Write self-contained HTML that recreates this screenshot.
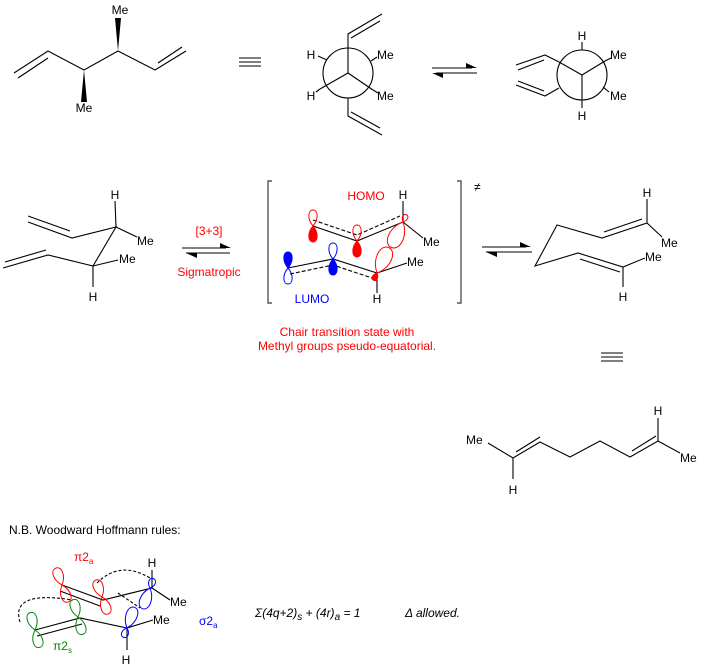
<!DOCTYPE html>
<html><head><meta charset="utf-8"><style>
html,body{margin:0;padding:0;background:#fff;}
svg{display:block;}
text{font-family:"Liberation Sans",sans-serif;font-size:12px;}
</style></head><body>
<svg width="704" height="668" viewBox="0 0 704 668" xmlns="http://www.w3.org/2000/svg">
<defs>
<path id="l16" d="M0,0 C-6,-7 -5,-16 0,-16 C5,-16 6,-7 0,0 Z"/>
<path id="l8" d="M0,0 C-4,-4 -3,-8 0,-8 C3,-8 4,-4 0,0 Z"/>
<path id="l28" d="M0,0 C-11,-11 -9,-28 0,-28 C9,-28 11,-11 0,0 Z"/>
<path id="w18" d="M0,0 C-7,-8 -6,-18 0,-18 C6,-18 7,-8 0,0 Z"/>
<path id="w10" d="M0,0 C-5,-4 -4,-10 0,-10 C4,-10 5,-4 0,0 Z"/>
<path id="w22" d="M0,0 C-8,-9 -7,-22 0,-22 C7,-22 8,-9 0,0 Z"/>
</defs>
<g stroke="#000" stroke-width="1.1" fill="none">
<polyline points="14,73 48,51 84,70 118,51 155,70 186,51"/>
<line x1="18" y1="78" x2="48" y2="58"/>
<line x1="158" y1="63" x2="182" y2="47"/>
<line x1="239" y1="58" x2="261" y2="58"/><line x1="239" y1="62" x2="261" y2="62"/><line x1="239" y1="66" x2="261" y2="66"/>
<ellipse cx="348" cy="73" rx="25" ry="25"/>
<line x1="348" y1="48" x2="348" y2="73"/><line x1="348" y1="73" x2="320" y2="89"/><line x1="348" y1="73" x2="373" y2="90"/>
<line x1="320" y1="89" x2="316" y2="92"/><line x1="373" y1="90" x2="378" y2="93"/>
<line x1="327" y1="60" x2="318" y2="56"/><line x1="371" y1="61" x2="377" y2="57"/>
<polyline points="348,48 348,34 382,14"/><line x1="351" y1="38" x2="380" y2="21"/>
<polyline points="348,98 348,116 382,135"/><line x1="351" y1="112" x2="380" y2="128"/>
<line x1="432" y1="68" x2="472" y2="68"/><line x1="436" y1="73" x2="477" y2="73"/>
<ellipse cx="582" cy="75" rx="25" ry="25"/>
<line x1="582" y1="75" x2="559" y2="62"/><line x1="582" y1="75" x2="605" y2="61"/><line x1="582" y1="75" x2="582" y2="100"/>
<line x1="582" y1="50" x2="582" y2="42"/><line x1="582" y1="100" x2="582" y2="108"/>
<line x1="603" y1="87" x2="609" y2="92"/><line x1="605" y1="61" x2="611" y2="58"/>
<polyline points="559,62 545,55 516,65"/><line x1="544" y1="60" x2="518" y2="70"/>
<polyline points="559,88 545,96 516,85"/><line x1="544" y1="91" x2="518" y2="81"/>
<line x1="115" y1="201" x2="116" y2="227"/>
<line x1="116" y1="227" x2="137" y2="237"/>
<polyline points="28,222 72,238 116,227 93,266 48,255 3,268"/>
<line x1="28" y1="216" x2="70" y2="231"/>
<line x1="5" y1="262" x2="46" y2="250"/>
<line x1="93" y1="266" x2="118" y2="260"/>
<line x1="93" y1="266" x2="93" y2="287"/>
<line x1="182" y1="248" x2="226" y2="248"/><line x1="186" y1="253" x2="230" y2="253"/>
<line x1="482" y1="247" x2="526" y2="247"/><line x1="486" y1="252" x2="532" y2="252"/>
<polyline points="272,181 268,181 268,303 272,303" stroke="#555" stroke-width="1.4"/>
<polyline points="457,181 461,181 461,303 457,303" stroke="#555" stroke-width="1.4"/>
<polyline points="313,226 357,241 403,222"/>
<line x1="403" y1="222" x2="423" y2="238"/>
<line x1="403" y1="201" x2="403" y2="222"/>
<polyline points="313,220 357,235 400,216" stroke-dasharray="4,2"/>
<polyline points="288,268 333,259 377,273"/>
<polyline points="290,274 333,265 375,279" stroke-dasharray="4,2"/>
<line x1="377" y1="273" x2="407" y2="263"/>
<line x1="377" y1="273" x2="377" y2="293"/>
<line x1="647" y1="199" x2="647" y2="223"/>
<polyline points="662,237 647,223 602,238 557,225 535,266 578,253 623,267 645,258"/>
<line x1="604" y1="232" x2="642" y2="219"/>
<line x1="580" y1="259" x2="620" y2="272"/>
<line x1="623" y1="267" x2="623" y2="287"/>
<line x1="601" y1="353" x2="623" y2="353"/><line x1="601" y1="357" x2="623" y2="357"/><line x1="601" y1="361" x2="623" y2="361"/>
<polyline points="488,443 513,458 540,442 570,457 600,441 630,457 658,441 680,453"/>
<line x1="516" y1="452" x2="540" y2="437"/>
<line x1="632" y1="451" x2="656" y2="436"/>
<line x1="658" y1="441" x2="658" y2="418"/>
<line x1="513" y1="458" x2="513" y2="479"/>
<line x1="152" y1="570" x2="152" y2="588"/>
<polyline points="62,585 103,600 152,588 170,600"/>
<line x1="60" y1="591" x2="100" y2="606"/>
<polyline points="35,630 80,618 127,628 153,620"/>
<line x1="37" y1="636" x2="82" y2="624"/>
<line x1="127" y1="628" x2="127" y2="650"/>
<path d="M97,583 Q120,560 150,578" stroke-dasharray="3,2"/>
<path d="M20,622 Q10,590 73,600" stroke-dasharray="3,2"/>
<path d="M118,593 L140,608" stroke-dasharray="3,2"/>
</g>
<g fill="#000">
<polygon points="466,63 477,68 466,68"/><polygon points="443,78 432,73 443,73"/>
<polygon points="220,243 231,248 220,248"/><polygon points="197,258 186,253 197,253"/>
<polygon points="520,242 531,247 520,247"/><polygon points="497,257 486,252 497,252"/>
<polygon points="84,70 81,102 87,102"/>
<polygon points="118,51 115,18 121,18"/>
</g>
<g stroke-width="1">
<use href="#l16" transform="translate(313,226)" fill="none" stroke="red"/>
<use href="#l16" transform="translate(313,226) rotate(180)" fill="red" stroke="red"/>
<use href="#l16" transform="translate(357,241)" fill="none" stroke="red"/>
<use href="#l16" transform="translate(357,241) rotate(180)" fill="red" stroke="red"/>
<use href="#l8" transform="translate(403,222) rotate(25)" fill="none" stroke="red"/>
<use href="#l28" transform="translate(403,222) rotate(205)" fill="none" stroke="red"/>
<use href="#l28" transform="translate(377,273) rotate(25)" fill="none" stroke="red"/>
<use href="#l8" transform="translate(377,273) rotate(205)" fill="red" stroke="red"/>
<use href="#l16" transform="translate(288,268)" fill="#00f" stroke="#00f"/>
<use href="#l16" transform="translate(288,268) rotate(180)" fill="none" stroke="#00f"/>
<use href="#l16" transform="translate(333,259)" fill="none" stroke="#00f"/>
<use href="#l16" transform="translate(333,259) rotate(180)" fill="#00f" stroke="#00f"/>
<use href="#w18" transform="translate(62,585) rotate(-20)" fill="none" stroke="red"/>
<use href="#w18" transform="translate(62,585) rotate(160)" fill="none" stroke="red"/>
<use href="#w18" transform="translate(102,597) rotate(-20)" fill="none" stroke="red"/>
<use href="#w18" transform="translate(102,597) rotate(160)" fill="none" stroke="red"/>
<use href="#w18" transform="translate(35,630) rotate(-15)" fill="none" stroke="#080"/>
<use href="#w18" transform="translate(35,630) rotate(165)" fill="none" stroke="#080"/>
<use href="#w18" transform="translate(78,617) rotate(-15)" fill="none" stroke="#080"/>
<use href="#w18" transform="translate(78,617) rotate(165)" fill="none" stroke="#080"/>
<use href="#w10" transform="translate(150,588) rotate(20)" fill="none" stroke="#00f"/>
<use href="#w22" transform="translate(150,588) rotate(200)" fill="none" stroke="#00f"/>
<use href="#w22" transform="translate(127,628) rotate(20)" fill="none" stroke="#00f"/>
<use href="#w10" transform="translate(127,628) rotate(200)" fill="none" stroke="#00f"/>
</g>
<g fill="#000" font-size="11">
<text x="84" y="112" text-anchor="middle" font-size="11">Me</text>
<text x="120" y="14" text-anchor="middle" font-size="11">Me</text>
<text x="311" y="59" text-anchor="middle" font-size="11">H</text>
<text x="311" y="100" text-anchor="middle" font-size="11">H</text>
<text x="377" y="59" font-size="11">Me</text>
<text x="377" y="100" font-size="11">Me</text>
<text x="582" y="40" text-anchor="middle" font-size="11">H</text>
<text x="582" y="120" text-anchor="middle" font-size="11">H</text>
<text x="610" y="59" font-size="11">Me</text>
<text x="610" y="100" font-size="11">Me</text>
<text x="115" y="199" text-anchor="middle" font-size="11">H</text>
<text x="137" y="245" font-size="11">Me</text>
<text x="119" y="263" font-size="11">Me</text>
<text x="93" y="301" text-anchor="middle" font-size="11">H</text>
<text x="403" y="199" text-anchor="middle" font-size="11">H</text>
<text x="423" y="246" font-size="11">Me</text>
<text x="407" y="266" font-size="11">Me</text>
<text x="377" y="303" text-anchor="middle" font-size="11">H</text>
<text x="474" y="191" font-size="11">≠</text>
<text x="647" y="197" text-anchor="middle" font-size="11">H</text>
<text x="661" y="247" font-size="11">Me</text>
<text x="645" y="261" font-size="11">Me</text>
<text x="623" y="301" text-anchor="middle" font-size="11">H</text>
<text x="466" y="444" font-size="11">Me</text>
<text x="658" y="415" text-anchor="middle" font-size="11">H</text>
<text x="680" y="462" font-size="11">Me</text>
<text x="513" y="494" text-anchor="middle" font-size="11">H</text>
<text x="9" y="534" font-size="12">N.B. Woodward Hoffmann rules:</text>
<text x="152" y="567" text-anchor="middle" font-size="11">H</text>
<text x="170" y="606" font-size="11">Me</text>
<text x="153" y="624" font-size="11">Me</text>
<text x="126" y="664" text-anchor="middle" font-size="11">H</text>
</g>
<g fill="red">
<text x="209" y="235" text-anchor="middle" font-size="11">[3+3]</text>
<text x="209" y="276" text-anchor="middle" font-size="11">Sigmatropic</text>
<text x="366" y="200" text-anchor="middle" font-size="11">HOMO</text>
<text x="347" y="336" text-anchor="middle" font-size="11">Chair transition state with</text>
<text x="347" y="350" text-anchor="middle" font-size="11">Methyl groups pseudo-equatorial.</text>
<text x="74" y="561" font-size="11">π2<tspan font-size="8" dy="3">a</tspan></text>
</g>
<text x="312" y="303" text-anchor="middle" font-size="11" fill="#00f">LUMO</text>
<text x="199" y="625" font-size="11" fill="#00f">σ2<tspan font-size="8" dy="3">a</tspan></text>
<text x="53" y="650" font-size="11" fill="#080">π2<tspan font-size="8" dy="3">s</tspan></text>
<text x="255" y="617" font-family="Liberation Serif,serif" font-style="italic" font-size="16">Σ(4q+2)<tspan font-size="10" dy="3">s</tspan><tspan dy="-3"> + (4r)</tspan><tspan font-size="10" dy="3">a</tspan><tspan dy="-3"> = 1</tspan></text>
<text x="405" y="617" font-family="Liberation Serif,serif" font-style="italic" font-size="16">Δ allowed.</text>
</svg>
</body></html>
